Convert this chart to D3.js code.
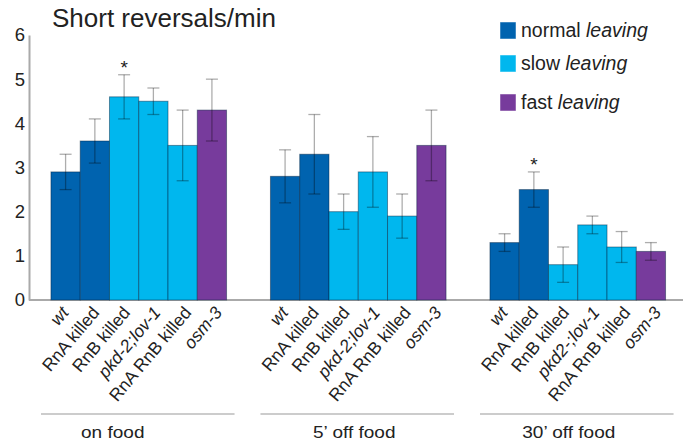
<!DOCTYPE html>
<html>
<head>
<meta charset="utf-8">
<script src="https://cdn.jsdelivr.net/npm/d3@7"></script>
<style>
  html, body { margin: 0; padding: 0; background: #fff; }
  svg { display: block; }
  text { font-family: "Liberation Sans", Arial, sans-serif; fill: #222; }
</style>
</head>
<body>
<svg id="chart" width="683" height="448"></svg>
<script>
// ---------- data ----------
const groups = ["on food", "5’ off food", "30’ off food"];
const strains = ["wt", "RnA killed", "RnB killed", "pkd-2;lov-1", "RnA RnB killed", "osm-3"];
const strainLabels = [
  ["wt", "RnA killed", "RnB killed", "pkd-2;lov-1", "RnA RnB killed", "osm-3"],
  ["wt", "RnA killed", "RnB killed", "pkd-2;lov-1", "RnA RnB killed", "osm-3"],
  ["wt", "RnA killed", "RnB killed", "pkd2-;lov-1", "RnA RnB killed", "osm-3"]
];
const italicLabels = [true, false, false, true, false, true];
const strainType = ["normal", "normal", "slow", "slow", "slow", "fast"];
const types = ["normal", "slow", "fast"];
const typeColors = ["#0063AF", "#00B7EE", "#773B9C"];

const onFood      = [2.9, 3.6, 4.6, 4.5, 3.5, 4.3];
const onFoodLow   = [2.5, 3.1, 4.1, 4.2, 2.7, 3.6];
const onFoodHigh  = [3.3, 4.1, 5.1, 4.8, 4.3, 5.0];
const off5        = [2.8, 3.3, 2.0, 2.9, 1.9, 3.5];
const off5Low     = [2.2, 2.4, 1.6, 2.1, 1.4, 2.7];
const off5High    = [3.4, 4.2, 2.4, 3.7, 2.4, 4.3];
const off30       = [1.3, 2.5, 0.8, 1.7, 1.2, 1.1];
const off30Low    = [1.1, 2.1, 0.4, 1.5, 0.85, 0.9];
const off30High   = [1.5, 2.9, 1.2, 1.9, 1.55, 1.3];

// significance markers: [group index, strain index]
const significant = [[0, 2], [2, 1]];
const yTicks = [0, 1, 2, 3, 4, 5, 6];

// ---------- layout ----------
const svg = d3.select("#chart");
const W = 683, H = 448;
const axisX = 29;
const y = d3.scaleLinear().domain([0, 6]).range([300, 35]);
const x0 = d3.scaleBand().domain(groups).range([axisX, 687.5]).paddingInner(0.2).paddingOuter(0.1);
const x1 = d3.scaleBand().domain(strains).range([0, x0.bandwidth()]).padding(0);
const color = d3.scaleOrdinal().domain(types).range(typeColors);

const series = [
  {v: onFood, lo: onFoodLow, hi: onFoodHigh},
  {v: off5, lo: off5Low, hi: off5High},
  {v: off30, lo: off30Low, hi: off30High}
];
const rows = [];
groups.forEach((g, gi) => strains.forEach((s, si) => rows.push({
  g, gi, s, si, v: series[gi].v[si], lo: series[gi].lo[si], hi: series[gi].hi[si],
  type: strainType[si], label: strainLabels[gi][si], italic: italicLabels[si]
})));

svg.append("rect").attr("width", W).attr("height", H).attr("fill", "#fff");

// baseline
svg.append("line")
  .attr("x1", axisX).attr("x2", W)
  .attr("y1", y(0)).attr("y2", y(0))
  .attr("stroke", "#aaa").attr("stroke-width", 2);

// y axis
const yAxis = svg.append("g")
  .attr("transform", `translate(${axisX},0)`)
  .call(d3.axisLeft(y).tickValues(yTicks).tickFormat(d3.format("d")).tickSize(0).tickPadding(4));
yAxis.select(".domain").attr("stroke", "#aaa").attr("stroke-width", 2);
yAxis.selectAll("text")
  .attr("font-size", 18.5).attr("fill", "#333")
  .attr("font-family", "'Liberation Sans', Arial, sans-serif");

// bars
svg.append("g").selectAll("rect").data(rows).join("rect")
  .attr("x", d => x0(d.g) + x1(d.s))
  .attr("y", d => y(d.v))
  .attr("width", x1.bandwidth())
  .attr("height", d => y(0) - y(d.v))
  .attr("fill", d => color(d.type))
  .attr("stroke", "rgba(0,30,60,0.45)")
  .attr("stroke-width", 1);

// error bars
const eb = svg.append("g").attr("stroke", "rgba(0,0,0,0.32)").attr("stroke-width", 1.3);
const capW = 12;
rows.forEach(d => {
  const cx = x0(d.g) + x1(d.s) + x1.bandwidth() / 2;
  eb.append("line").attr("x1", cx).attr("x2", cx).attr("y1", y(d.lo)).attr("y2", y(d.hi));
  eb.append("line").attr("x1", cx - capW / 2).attr("x2", cx + capW / 2).attr("y1", y(d.lo)).attr("y2", y(d.lo));
  eb.append("line").attr("x1", cx - capW / 2).attr("x2", cx + capW / 2).attr("y1", y(d.hi)).attr("y2", y(d.hi));
});

// significance asterisks
significant.forEach(([gi, si]) => {
  const d = rows.find(r => r.gi === gi && r.si === si);
  svg.append("text")
    .attr("x", x0(d.g) + x1(d.s) + x1.bandwidth() / 2)
    .attr("y", y(d.hi) - 1)
    .attr("text-anchor", "middle")
    .attr("font-size", 19)
    .attr("fill", "#333")
    .text("*");
});

// rotated category labels
svg.append("g").selectAll("text").data(rows).join("text")
  .attr("transform", d => {
    const cx = x0(d.g) + x1(d.s) + x1.bandwidth() / 2;
    return `translate(${cx + 4 + d.si * 1.4},${y(0) + 13}) rotate(-50)`;
  })
  .attr("text-anchor", "end")
  .attr("font-size", 17.5)
  .attr("font-style", d => d.italic ? "italic" : "normal")
  .attr("fill", "#222")
  .text(d => d.label);

// group lines and labels
const groupLabelShift = [-26, -4, -9];
groups.forEach((g, gi) => {
  const gx = x0(g), gw = x0.bandwidth();
  svg.append("line")
    .attr("x1", gx - 10).attr("x2", gx + gw + 8)
    .attr("y1", 414).attr("y2", 414)
    .attr("stroke", "#999").attr("stroke-width", 1.2);
  svg.append("text")
    .attr("transform", `translate(${gx + gw / 2 + groupLabelShift[gi]},438) scale(1.12,1)`)
    .attr("text-anchor", "middle")
    .attr("font-size", 17)
    .attr("fill", "#222")
    .text(g);
});

// title
svg.append("text")
  .attr("x", 52).attr("y", 27)
  .attr("font-size", 26)
  .attr("fill", "#111")
  .text("Short reversals/min");

// legend
const legendY = [22, 55, 94];
const legendWords = ["normal", "slow", "fast"];
types.forEach((t, i) => {
  const lg = svg.append("g").attr("transform", `translate(500,${legendY[i]})`);
  lg.append("rect").attr("width", 16).attr("height", 17)
    .attr("fill", color(t)).attr("stroke", "rgba(255,255,255,0.6)").attr("stroke-width", 0.8);
  const tx = lg.append("text").attr("x", 21).attr("y", 15).attr("font-size", 19.5).attr("fill", "#222");
  tx.append("tspan").text(legendWords[i] + " ");
  tx.append("tspan").attr("font-style", "italic").text("leaving");
});
</script>
</body>
</html>
